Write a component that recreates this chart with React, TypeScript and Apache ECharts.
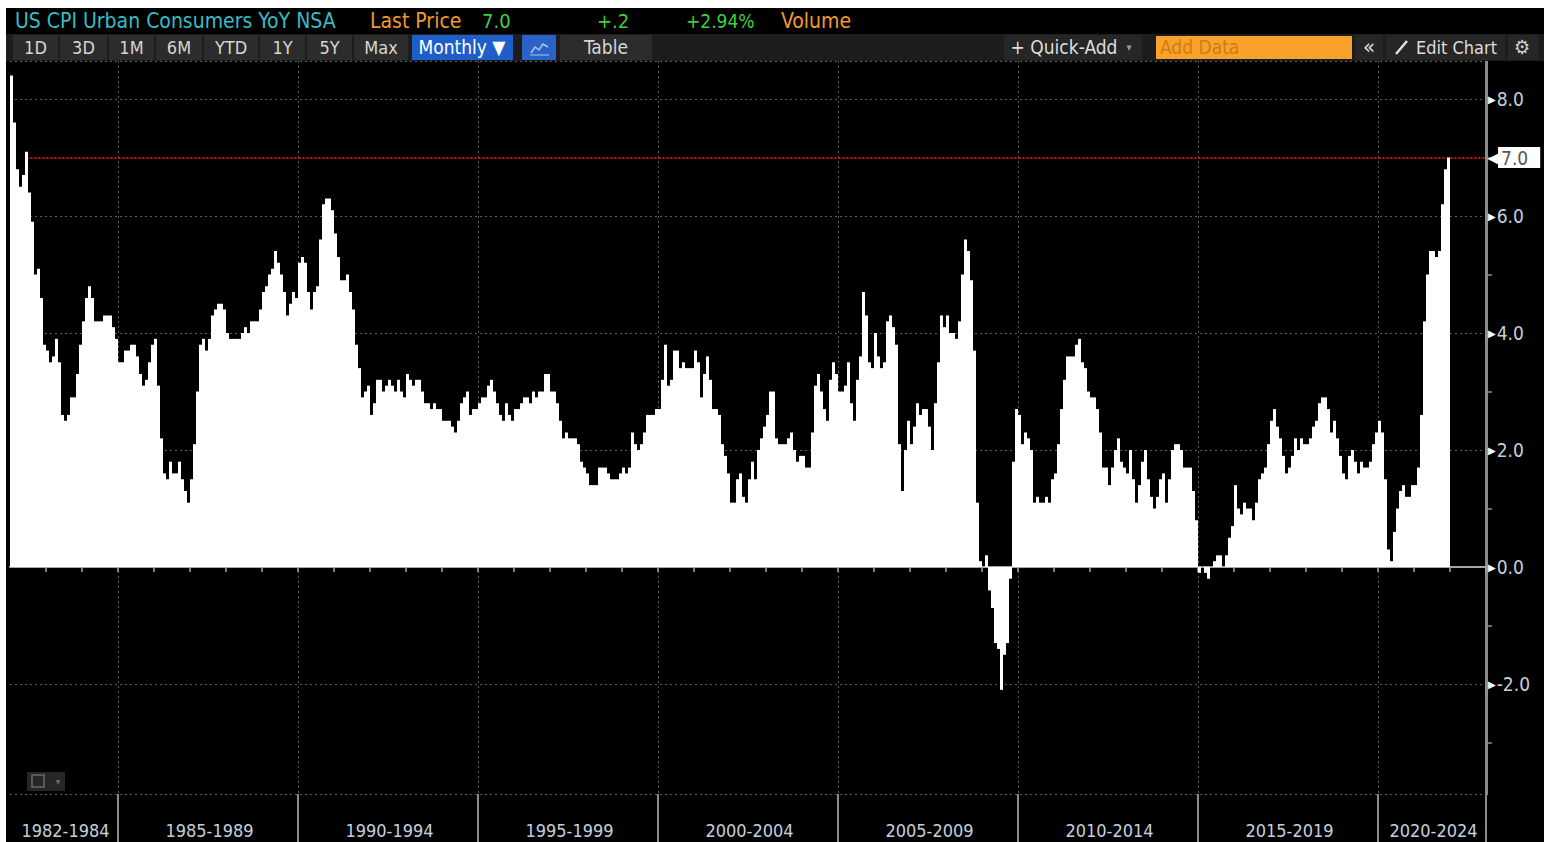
import React, { useEffect, useRef } from "react";
import * as echarts from "echarts";

// ---- data: US CPI Urban Consumers YoY NSA, monthly (%) ----
const firstYear = 1982;
const lastAxisYear = 2022;
const cpi1982_1985 = [
  8.4, 7.6, 6.8, 6.5, 6.7, 7.1, 6.4, 5.9, 5.0, 5.1, 4.6, 3.8,
  3.7, 3.5, 3.6, 3.9, 3.5, 2.6, 2.5, 2.6, 2.9, 2.9, 3.3, 3.8,
  4.2, 4.6, 4.8, 4.6, 4.2, 4.2, 4.2, 4.3, 4.3, 4.3, 4.1, 3.9,
  3.5, 3.5, 3.7, 3.7, 3.8, 3.8, 3.6, 3.3, 3.1, 3.2, 3.5, 3.8,
];
const cpi1986_1989 = [
  3.9, 3.1, 2.2, 1.6, 1.5, 1.8, 1.6, 1.6, 1.8, 1.5, 1.3, 1.1,
  1.5, 2.1, 3.0, 3.8, 3.9, 3.7, 3.9, 4.3, 4.4, 4.5, 4.5, 4.4,
  4.0, 3.9, 3.9, 3.9, 3.9, 4.0, 4.1, 4.0, 4.2, 4.2, 4.2, 4.4,
  4.7, 4.8, 5.0, 5.1, 5.4, 5.2, 5.0, 4.7, 4.3, 4.5, 4.7, 4.6,
];
const cpi1990_1994 = [
  5.2, 5.3, 5.2, 4.7, 4.4, 4.7, 4.8, 5.6, 6.2, 6.3, 6.3, 6.1,
  5.7, 5.3, 4.9, 4.9, 5.0, 4.7, 4.4, 3.8, 3.4, 2.9, 3.0, 3.1,
  2.6, 2.8, 3.2, 3.2, 3.0, 3.1, 3.2, 3.1, 3.0, 3.2, 3.0, 2.9,
  3.3, 3.2, 3.1, 3.2, 3.2, 3.0, 2.8, 2.8, 2.7, 2.8, 2.7, 2.7,
  2.5, 2.5, 2.5, 2.4, 2.3, 2.5, 2.8, 2.9, 3.0, 2.6, 2.7, 2.7,
];
const cpi1995_1999 = [
  2.8, 2.9, 2.9, 3.1, 3.2, 3.0, 2.8, 2.6, 2.5, 2.8, 2.6, 2.5,
  2.7, 2.7, 2.8, 2.9, 2.9, 2.8, 3.0, 2.9, 3.0, 3.0, 3.3, 3.3,
  3.0, 3.0, 2.8, 2.5, 2.2, 2.3, 2.2, 2.2, 2.2, 2.1, 1.8, 1.7,
  1.6, 1.4, 1.4, 1.4, 1.7, 1.7, 1.7, 1.6, 1.5, 1.5, 1.5, 1.6,
  1.7, 1.6, 1.7, 2.3, 2.1, 2.0, 2.1, 2.3, 2.6, 2.6, 2.6, 2.7,
];
const cpi2000_2004 = [
  2.7, 3.2, 3.8, 3.1, 3.2, 3.7, 3.7, 3.4, 3.5, 3.4, 3.4, 3.4,
  3.7, 3.5, 2.9, 3.3, 3.6, 3.2, 2.7, 2.7, 2.6, 2.1, 1.9, 1.6,
  1.1, 1.1, 1.5, 1.6, 1.2, 1.1, 1.5, 1.8, 1.5, 2.0, 2.2, 2.4,
  2.6, 3.0, 3.0, 2.2, 2.1, 2.1, 2.1, 2.2, 2.3, 2.0, 1.8, 1.9,
  1.9, 1.7, 1.7, 2.3, 3.1, 3.3, 3.0, 2.7, 2.5, 3.2, 3.5, 3.3,
];
const cpi2005_2009 = [
  3.0, 3.0, 3.1, 3.5, 2.8, 2.5, 3.2, 3.6, 4.7, 4.3, 3.5, 3.4,
  4.0, 3.6, 3.4, 3.5, 4.2, 4.3, 4.1, 3.8, 2.1, 1.3, 2.0, 2.5,
  2.1, 2.4, 2.8, 2.6, 2.7, 2.7, 2.4, 2.0, 2.8, 3.5, 4.3, 4.1,
  4.3, 4.0, 4.0, 3.9, 4.2, 5.0, 5.6, 5.4, 4.9, 3.7, 1.1, 0.1,
  0.0, 0.2, -0.4, -0.7, -1.3, -1.4, -2.1, -1.5, -1.3, -0.2, 1.8, 2.7,
];
const cpi2010_2014 = [
  2.6, 2.1, 2.3, 2.2, 2.0, 1.1, 1.2, 1.1, 1.1, 1.2, 1.1, 1.5,
  1.6, 2.1, 2.7, 3.2, 3.6, 3.6, 3.6, 3.8, 3.9, 3.5, 3.4, 3.0,
  2.9, 2.9, 2.7, 2.3, 1.7, 1.7, 1.4, 1.7, 2.0, 2.2, 1.8, 1.7,
  1.6, 2.0, 1.5, 1.1, 1.4, 1.8, 2.0, 1.5, 1.2, 1.0, 1.2, 1.5,
  1.6, 1.1, 1.5, 2.0, 2.1, 2.1, 2.0, 1.7, 1.7, 1.7, 1.3, 0.8,
];
const cpi2015_2019 = [
  -0.1, 0.0, -0.1, -0.2, 0.0, 0.1, 0.2, 0.2, 0.0, 0.2, 0.5, 0.7,
  1.4, 1.0, 0.9, 1.1, 1.0, 1.0, 0.8, 1.1, 1.5, 1.6, 1.7, 2.1,
  2.5, 2.7, 2.4, 2.2, 1.9, 1.6, 1.7, 1.9, 2.2, 2.0, 2.2, 2.1,
  2.1, 2.2, 2.4, 2.5, 2.8, 2.9, 2.9, 2.7, 2.3, 2.5, 2.2, 1.9,
  1.6, 1.5, 1.9, 2.0, 1.8, 1.6, 1.8, 1.7, 1.7, 1.8, 2.1, 2.3,
];
const cpi2020_2021 = [
  2.5, 2.3, 1.5, 0.3, 0.1, 0.6, 1.0, 1.3, 1.4, 1.2, 1.2, 1.4,
  1.4, 1.7, 2.6, 4.2, 5.0, 5.4, 5.4, 5.3, 5.4, 6.2, 6.8, 7.0,
];

const periodStartYears = [1982, 1985, 1990, 1995, 2000, 2005, 2010, 2015, 2020];
const periodLabels = ["1982-1984", "1985-1989", "1990-1994", "1995-1999", "2000-2004", "2005-2009", "2010-2014", "2015-2019", "2020-2024"];

const lastPrice = 7.0;
const titleText = "US CPI Urban Consumers YoY NSA";
const lastPriceLabel = "Last Price";
const lastPriceText = "7.0";
const changeText = "+.2";
const changePctText = "+2.94%";
const volumeText = "Volume";
const rangeButtons = ["1D", "3D", "1M", "6M", "YTD", "1Y", "5Y", "Max"];

const FONT = '"DejaVu Sans Condensed", "Liberation Sans Narrow", "Liberation Sans", sans-serif';

export default function App() {
  const ref = useRef<HTMLDivElement>(null);

  useEffect(() => {
    if (!ref.current) return;
    const chart = echarts.init(ref.current, undefined, { renderer: "svg" });

    const values = [
      ...cpi1982_1985, ...cpi1986_1989, ...cpi1990_1994, ...cpi1995_1999,
      ...cpi2000_2004, ...cpi2005_2009, ...cpi2010_2014, ...cpi2015_2019, ...cpi2020_2021,
    ];
    const cats: string[] = [];
    for (let y = firstYear; y <= lastAxisYear; y++) {
      for (let m = 1; m <= 12; m++) cats.push(`${y}-${m < 10 ? "0" + m : m}`);
    }
    const n = cats.length;
    const periodStartIdx = periodStartYears.map((y) => (y - firstYear) * 12);
    const labelIdx: Record<number, string> = {};
    periodStartIdx.forEach((s, i) => {
      const e = i + 1 < periodStartIdx.length ? periodStartIdx[i + 1] : n;
      labelIdx[Math.round((s + e) / 2)] = periodLabels[i];
    });

    // toolbar graphics
    const g: any[] = [];
    g.push({ type: "rect", z: 100, shape: { x: 0, y: 0, width: 1544, height: 8 }, style: { fill: "#ffffff" } });
    g.push({ type: "rect", z: 100, shape: { x: 0, y: 0, width: 6, height: 842 }, style: { fill: "#ffffff" } });
    const txt = (text: string, x: number, y: number, fill: string, size: number, align = "left") => ({
      type: "text", z: 102, x, y,
      style: { text, fill, fontSize: size, fontFamily: FONT, textAlign: align, textVerticalAlign: "middle" },
    });
    g.push(txt(titleText, 15, 21, "#38bcc4", 21));
    g.push(txt(lastPriceLabel, 370, 21, "#f29a2e", 21));
    g.push(txt(lastPriceText, 482, 21, "#3fcf3f", 20));
    g.push(txt(changeText, 597, 21, "#3fcf3f", 20));
    g.push(txt(changePctText, 686, 21, "#3fcf3f", 19));
    g.push(txt(volumeText, 781, 21, "#f29a2e", 21));
    // second row background
    g.push({ type: "rect", z: 100, shape: { x: 6, y: 34, width: 1538, height: 27 }, style: { fill: "#1d1d1d" } });
    const btnX = [13, 60, 109, 156, 204, 260, 307, 354];
    const btnW = [45, 47, 45, 46, 54, 45, 45, 54];
    rangeButtons.forEach((b, i) => {
      g.push({ type: "rect", z: 101, shape: { x: btnX[i], y: 35, width: btnW[i], height: 25 }, style: { fill: "#2c2c2c" } });
      g.push(txt(b, btnX[i] + btnW[i] / 2, 47, "#d6d6d6", 18, "center"));
    });
    g.push({ type: "rect", z: 101, shape: { x: 412, y: 35, width: 101, height: 25 }, style: { fill: "#1e5ec8" } });
    g.push(txt("Monthly \u25BC", 462, 47, "#ffffff", 19, "center"));
    g.push({ type: "rect", z: 101, shape: { x: 522, y: 35, width: 34, height: 25 }, style: { fill: "#2a62c8" } });
    g.push({ type: "polyline", z: 102, shape: { points: [[531, 53], [535, 47], [539, 50], [543, 44], [548, 47]] }, style: { stroke: "#a8c8f0", lineWidth: 1.5, fill: null } });
    g.push({ type: "line", z: 102, shape: { x1: 530, y1: 55, x2: 549, y2: 55 }, style: { stroke: "#a8c8f0", lineWidth: 1 } });
    g.push({ type: "rect", z: 101, shape: { x: 560, y: 35, width: 92, height: 25 }, style: { fill: "#2c2c2c" } });
    g.push(txt("Table", 606, 47, "#d6d6d6", 19, "center"));
    g.push({ type: "rect", z: 101, shape: { x: 1004, y: 35, width: 138, height: 25 }, style: { fill: "#262626" } });
    g.push(txt("+ Quick-Add", 1064, 47, "#dedede", 19, "center"));
    g.push(txt("\u25BE", 1129, 47, "#9a9a9a", 11, "center"));
    g.push({ type: "rect", z: 101, shape: { x: 1156, y: 36, width: 196, height: 23 }, style: { fill: "#f8a22c" } });
    g.push(txt("Add Data", 1160, 47, "#cf7d12", 19));
    g.push({ type: "rect", z: 101, shape: { x: 1355, y: 35, width: 28, height: 25 }, style: { fill: "#262626" } });
    g.push(txt("\u00AB", 1369, 46, "#dedede", 22, "center"));
    g.push({ type: "rect", z: 101, shape: { x: 1386, y: 35, width: 119, height: 25 }, style: { fill: "#262626" } });
    g.push({ type: "line", z: 102, shape: { x1: 1396, y1: 54, x2: 1407, y2: 41 }, style: { stroke: "#e0e0e0", lineWidth: 2.5 } });
    g.push(txt("Edit Chart", 1416, 47, "#dedede", 18));
    g.push({ type: "rect", z: 101, shape: { x: 1508, y: 35, width: 30, height: 25 }, style: { fill: "#262626" } });
    g.push(txt("\u2699", 1522, 47, "#d0d0d0", 20, "center"));
    // bottom-left small control
    g.push({ type: "rect", z: 101, shape: { x: 27, y: 772, width: 38, height: 19 }, style: { fill: "#262626" } });
    g.push({ type: "rect", z: 102, shape: { x: 32, y: 775, width: 12, height: 12 }, style: { fill: "none", stroke: "#6a6a6a", lineWidth: 1.5 } });
    g.push(txt("\u25BE", 58, 781, "#6a6a6a", 10, "center"));

    chart.setOption({
      animation: false,
      backgroundColor: "#000000",
      graphic: { elements: g },
      grid: { left: 10, right: 58, top: 61, bottom: 48, containLabel: false },
      xAxis: [
        {
          type: "category",
          data: cats,
          position: "bottom",
          boundaryGap: true,
          axisLine: { show: true, lineStyle: { color: "#a6a6a6", width: 2 } },
          axisTick: { show: true, length: 5, interval: (i: number) => i > 0 && i % 12 === 0, lineStyle: { color: "#a6a6a6", width: 1.5 } },
          axisLabel: { show: false },
          splitLine: { show: false },
        },
        {
          type: "category",
          data: cats,
          position: "bottom",
          boundaryGap: true,
          axisLine: { show: false },
          axisTick: { show: true, length: 48, interval: (i: number) => i > 0 && periodStartIdx.includes(i), lineStyle: { color: "#8a8a8a", width: 2 } },
          axisLabel: {
            show: true,
            interval: (i: number) => labelIdx[i] !== undefined,
            formatter: (_v: string, i: number) => labelIdx[i] || "",
            color: "#c4cfdc",
            fontSize: 18,
            fontFamily: FONT,
            margin: 27,
          },
          splitLine: { show: true, interval: (i: number) => i > 0 && periodStartIdx.includes(i), lineStyle: { color: "#5e5e5e", type: [2, 3], width: 1 } },
        },
      ],
      yAxis: {
        type: "value",
        position: "right",
        min: -3.88,
        max: 8.65,
        splitNumber: 6,
        axisLine: { show: true, lineStyle: { color: "#8c8c8c", width: 3 } },
        axisTick: { show: false },
        minorTick: { show: true, splitNumber: 2, length: 6, lineStyle: { color: "#8c8c8c", width: 1.5 } },
        splitLine: { show: true, lineStyle: { color: "#5e5e5e", type: [2, 3], width: 1 } },
        axisLabel: {
          showMinLabel: false,
          showMaxLabel: false,
          margin: 2,
          formatter: (v: number) => `{t|\u25B6}{v|${v.toFixed(1)}}`,
          rich: {
            t: { color: "#ffffff", fontSize: 10, fontFamily: "DejaVu Sans", padding: [0, 1, 0, 0] },
            v: { color: "#c4cfdc", fontSize: 19, fontFamily: FONT },
          },
        },
      },
      series: [
        {
          type: "bar",
          xAxisIndex: 0,
          data: values,
          barCategoryGap: "0%",
          z: 2,
          itemStyle: { color: "#ffffff" },
          markLine: {
            z: 1,
            silent: true,
            symbol: ["none", "none"],
            lineStyle: { color: "#e01010", type: [2, 2], width: 2 },
            label: {
              show: true,
              position: "end",
              distance: 3,
              formatter: () => `{t|\u25C0}{b|${lastPrice.toFixed(1)}}`,
              rich: {
                t: { color: "#ffffff", fontSize: 15, fontFamily: "DejaVu Sans", padding: [0, -1, 0, 0] },
                b: { color: "#555555", backgroundColor: "#ffffff", fontSize: 19, fontFamily: FONT, padding: [1, 12, 1, 3] },
              },
            },
            data: [[{ coord: [cats[5], lastPrice] }, { coord: [cats[n - 1], lastPrice] }]],
          },
        },
      ],
    });

    return () => chart.dispose();
  }, []);

  return <div ref={ref} style={{ position: "fixed", left: 0, top: 0, width: 1544, height: 842 }} />;
}
